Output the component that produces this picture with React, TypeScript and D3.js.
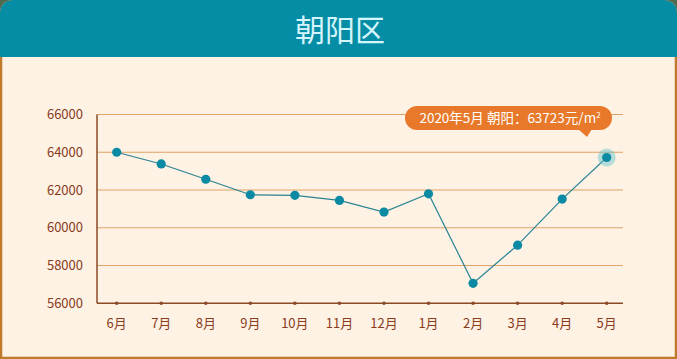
import React from "react";
import * as d3 from "d3";

const months = ["6月", "7月", "8月", "9月", "10月", "11月", "12月", "1月", "2月", "3月", "4月", "5月"];
const prices = [64000, 63380, 62570, 61750, 61720, 61450, 60830, 61800, 57060, 59080, 61520, 63723];
const yTicks = [56000, 58000, 60000, 62000, 64000, 66000];
const title = "朝阳区";
const tooltipText = "2020年5月 朝阳：63723元/m";

const W = 677;
const H = 359;
const FONT = "'Noto Sans CJK SC', 'Noto Sans', sans-serif";

export default function App() {
  const x = d3.scalePoint<string>().domain(months).range([116.7, 606.7]);
  const y = d3.scaleLinear().domain([56000, 66000]).range([303.3, 114.5]);
  const axisLeft = 97;
  const axisRight = 623;
  const line = d3
    .line<number>()
    .x((_, i) => x(months[i]) as number)
    .y((d) => y(d));

  const lastI = prices.length - 1;
  const lx = x(months[lastI]) as number;
  const ly = y(prices[lastI]);

  const headerPath = `M0,${57} L0,14 Q0,0 14,0 L${W - 14},0 Q${W},0 ${W},14 L${W},57 Z`;

  return (
    <svg
      width={W}
      height={H}
      style={{ position: "fixed", left: 0, top: 0, display: "block" }}
      fontFamily={FONT}
    >
      <rect x={0} y={0} width={W} height={H} fill="#4e6a4f" />
      <path
        d={`M0,${H} L0,14 Q0,0 14,0 L${W - 14},0 Q${W},0 ${W},14 L${W},${H} Z`}
        fill="#fdf2e4"
      />
      <path
        d={`M1,${H - 1} L1,14 Q1,1 14,1 L${W - 14},1 Q${W - 1},1 ${W - 1},14 L${W - 1},${H - 1} Z`}
        fill="none"
        stroke="#bf7a2c"
        strokeWidth={2.5}
      />
      <path d={headerPath} fill="#058da6" />
      <text x={340} y={41} textAnchor="middle" fontSize={30} fill="#d4f5fb">
        {title}
      </text>

      {yTicks.map((t) => (
        <g key={t}>
          {t !== 56000 && (
            <line x1={axisLeft} x2={axisRight} y1={y(t)} y2={y(t)} stroke="#dfa366" strokeWidth={1} />
          )}
          <text
            x={83}
            y={y(t)}
            dy="0.35em"
            textAnchor="end"
            fontSize={13}
            fill="#8a3b1c"
          >
            {t}
          </text>
        </g>
      ))}

      <line x1={axisLeft} x2={axisLeft} y1={y(66000)} y2={y(56000)} stroke="#8a4a26" strokeWidth={1.5} />
      <line x1={axisLeft} x2={axisRight} y1={y(56000)} y2={y(56000)} stroke="#8a4a26" strokeWidth={1.5} />

      {months.map((m) => (
        <g key={m}>
          <circle cx={x(m) as number} cy={y(56000)} r={1.8} fill="#8a4a26" />
          <text x={x(m) as number} y={328} textAnchor="middle" fontSize={13} fill="#8a3b1c">
            {m}
          </text>
        </g>
      ))}

      <path d={line(prices) || ""} fill="none" stroke="#2a8393" strokeWidth={1.2} />
      <circle cx={lx} cy={ly} r={9} fill="#5fc0cf" opacity={0.45} />
      {prices.map((p, i) => (
        <circle key={i} cx={x(months[i]) as number} cy={y(p)} r={4.6} fill="#0c8aa3" />
      ))}

      <g>
        <rect x={405} y={106} width={207} height={24} rx={12} fill="#e8792a" />
        <path d="M578,129 L592,129 L587,137 Z" fill="#e8792a" />
        <text x={510} y={118} dy="0.35em" textAnchor="middle" fontSize={13.5} fill="#ffffff">
          {tooltipText}
          <tspan fontSize={8} dy="-5">2</tspan>
        </text>
      </g>
    </svg>
  );
}
